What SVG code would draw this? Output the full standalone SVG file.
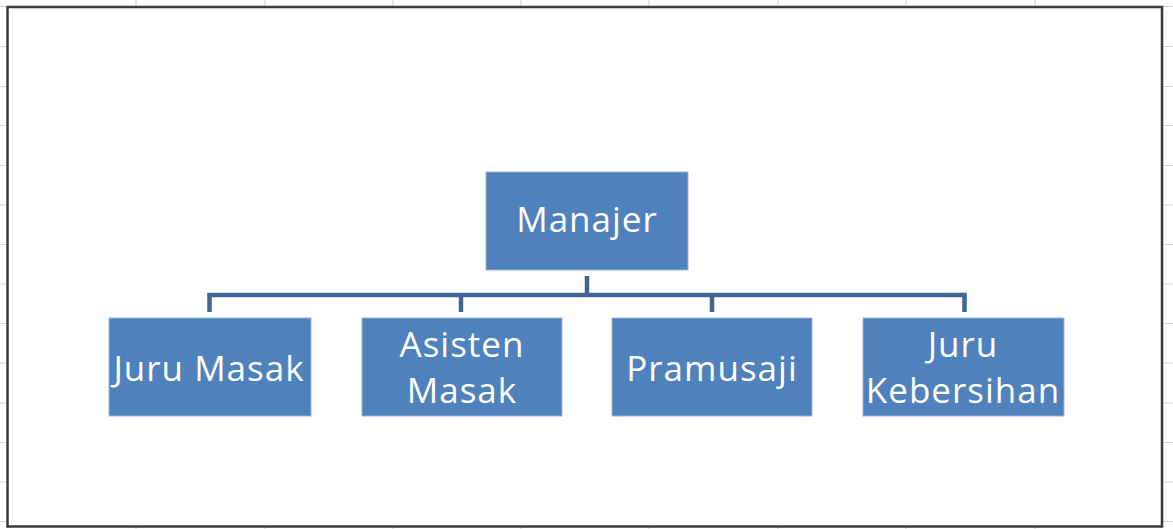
<svg xmlns="http://www.w3.org/2000/svg" width="1173" height="529" viewBox="0 0 1173 529">
<style>
.grid{stroke:#d6d6d6;stroke-width:1.2;fill:none}
.box{fill:#4F81BD;stroke:#9db5da;stroke-width:1}
.lbl{font-family:"Open Sans","Noto Sans",sans-serif;font-size:35px;letter-spacing:1px;fill:#ffffff;text-anchor:middle}
.conn{stroke:#3F6696;stroke-width:4.5;fill:none;stroke-linejoin:miter}
</style>
<rect width="1173" height="529" fill="#ffffff"/>
<g id="grid">
<path class="grid" d="M136 0V529M265 0V529M393 0V529M521 0V529M649 0V529M778 0V529M906 0V529M1035 0V529"/>
<path class="grid" d="M0 6.5H1173M0 46.5H1173M0 86.5H1173M0 125.5H1173M0 165.5H1173M0 205H1173M0 244.5H1173M0 284H1173M0 323.5H1173M0 363H1173M0 403H1173M0 442.5H1173M0 482H1173M0 521.5H1173"/>
</g>
<rect id="frame" x="7.5" y="7" width="1154.5" height="519.5" fill="#ffffff" stroke="#3a3a3a" stroke-width="2.5"/>
<g id="connectors">
<path class="conn" d="M587 276V295M209.5 312V295H964.5V312M461 295V312M712 295V312"/>
</g>
<g id="manajer">
<rect class="box" x="486" y="172" width="202" height="98"/>
<text class="lbl" x="587" y="232">Manajer</text>
</g>
<g id="juru-masak">
<rect class="box" x="109" y="318" width="202" height="98"/>
<text class="lbl" x="209" y="381">Juru Masak</text>
</g>
<g id="asisten-masak">
<rect class="box" x="362" y="318" width="200" height="98"/>
<text class="lbl" x="462" y="357">Asisten</text>
<text class="lbl" x="462" y="403">Masak</text>
</g>
<g id="pramusaji">
<rect class="box" x="612" y="318" width="200" height="98"/>
<text class="lbl" x="712" y="381">Pramusaji</text>
</g>
<g id="juru-kebersihan">
<rect class="box" x="863" y="318" width="201" height="98"/>
<text class="lbl" x="963" y="357">Juru</text>
<text class="lbl" x="963" y="403">Kebersihan</text>
</g>
</svg>
